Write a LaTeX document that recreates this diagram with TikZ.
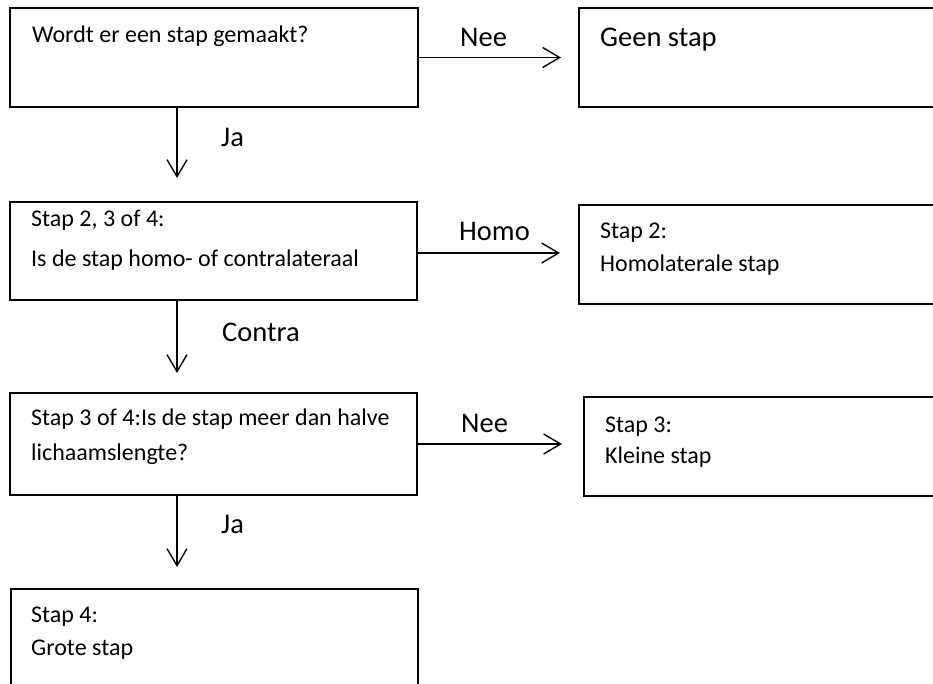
\documentclass[tikz,border=0pt]{standalone}
\usepackage{fontspec}
\setmainfont{Carlito}
\usetikzlibrary{arrows.meta}
\begin{document}
\begin{tikzpicture}[x=1pt,y=-1pt,
  box/.style={draw,line width=1.6pt,rectangle,inner sep=0pt,outer sep=0pt,anchor=north west},
  txt/.style={anchor=base west,inner sep=0pt,font=\fontsize{24}{29}\selectfont},
  lbl/.style={anchor=base west,inner sep=0pt,font=\fontsize{28.5}{34}\selectfont},
  flow/.style={line width=1.4pt,-{Straight Barb[length=17pt,width=20pt]}}]
  % page frame
  \useasboundingbox (0,0) rectangle (933,684);
  \fill[white] (0,0) rectangle (933,684);
  \clip (0,0) rectangle (933,684);

  % left column: questions and the final outcome
  \node[box,minimum width=408pt,minimum height=99pt] (q1) at (10,8) {};
  \node[box,minimum width=407pt,minimum height=98pt] (q2) at (10,202) {};
  \node[box,minimum width=407pt,minimum height=102pt] (q3) at (10,393) {};
  \node[box,minimum width=407pt,minimum height=120pt] (r4) at (11,589) {};

  % right column: outcomes
  \node[box,minimum width=370pt,minimum height=99pt] (r0) at (579,8) {};
  \node[box,minimum width=370pt,minimum height=99pt] (r2) at (579,205) {};
  \node[box,minimum width=365pt,minimum height=99pt] (r3) at (584,397) {};

  % box texts
  \node[txt] (tq1) at (32,43) {Wordt er een stap gemaakt?};
  \node[txt] (tq2a) at (31,227) {Stap 2, 3 of 4:};
  \node[txt] (tq2b) at (31,267) {Is de stap homo- of contralateraal};
  \node[txt] (tq3a) at (31,425) {Stap 3 of 4:Is de stap meer dan halve};
  \node[txt] (tq3b) at (31,460) {lichaamslengte?};
  \node[txt] (tr4a) at (31,622) {Stap 4:};
  \node[txt] (tr4b) at (31,655) {Grote stap};
  \node[lbl] (tr0) at (600,47) {Geen stap};
  \node[txt] (tr2a) at (600,239) {Stap 2:};
  \node[txt] (tr2b) at (600,272) {Homolaterale stap};
  \node[txt] (tr3a) at (605,432) {Stap 3:};
  \node[txt] (tr3b) at (605,463) {Kleine stap};

  % horizontal connectors
  \draw[flow,shorten >=18pt] (q1.east) -- (q1.east -| r0.west);
  \draw[flow,shorten >=19pt] ([yshift=-2pt]q2.east) -- ([yshift=-2pt]q2.east -| r2.west);
  \draw[flow,shorten >=22pt] (q3.east) -- (q3.east -| r3.west);

  % vertical connectors
  \draw[flow,shorten >=24pt] ([xshift=-37pt]q1.south) -- ([xshift=-37pt]q1.south |- q2.north);
  \draw[flow,shorten >=20pt] ([xshift=-36.5pt]q2.south) -- ([xshift=-36.5pt]q2.south |- q3.north);
  \draw[flow,shorten >=22pt] ([xshift=-36.5pt]q3.south) -- ([xshift=-36.5pt]q3.south |- r4.north);

  % connector labels
  \node[lbl] (l1) at (460,47) {Nee};
  \node[lbl] (l2) at (221,147) {Ja};
  \node[lbl] (l3) at (459,241) {Homo};
  \node[lbl] (l4) at (222,341) {Contra};
  \node[lbl] (l5) at (461,432) {Nee};
  \node[lbl] (l6) at (221,533) {Ja};
\end{tikzpicture}
\end{document}
